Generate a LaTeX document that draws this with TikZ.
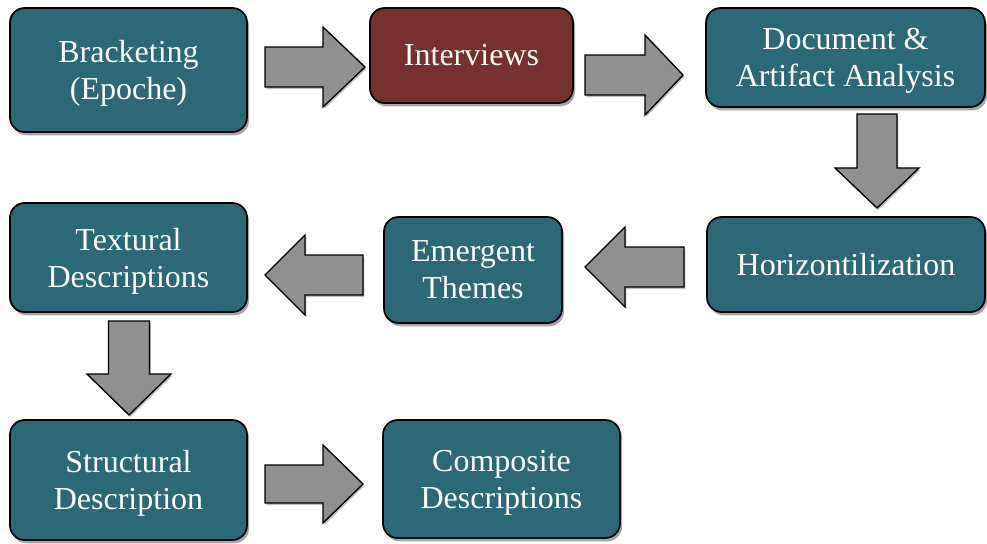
\documentclass[tikz,border=0pt]{standalone}
\usepackage{fontspec}
\setmainfont{Liberation Serif}
\newfontfamily\tnr{Liberation Serif}
\usetikzlibrary{shadows}
\definecolor{teal1}{RGB}{43,105,120}
\definecolor{red1}{RGB}{118,49,46}
\definecolor{gray1}{RGB}{144,144,144}
\newcommand\harrow[6]{\draw[barrow] (#1,#4-#5) -- (#2,#4-#5) -- (#2,#4-#6) -- (#3,#4) -- (#2,#4+#6) -- (#2,#4+#5) -- (#1,#4+#5) -- cycle;}
\newcommand\varrow[6]{\draw[barrow] (#4-#5,#1) -- (#4-#5,#2) -- (#4-#6,#2) -- (#4,#3) -- (#4+#6,#2) -- (#4+#5,#2) -- (#4+#5,#1) -- cycle;}
\begin{document}
\begin{tikzpicture}[x=0.75pt,y=-0.75pt,
  box/.style={draw=black, line width=1.3pt, fill=teal1, rounded corners=11pt,
    text=white, align=center, font=\tnr\fontsize{24}{27.75}\selectfont, inner sep=0pt,
    drop shadow={shadow xshift=1.5pt, shadow yshift=-2.5pt, opacity=0.35, fill=black}},
  barrow/.style={draw=black, line width=1pt, fill=gray1, line join=miter,
    drop shadow={shadow xshift=1pt, shadow yshift=-1.5pt, opacity=0.25, fill=black}}]
\useasboundingbox (0,0) rectangle (987,543);
\node[box, minimum width=237*0.75pt, minimum height=124*0.75pt] (brk) at (128.5,70) {Bracketing\\\smash{(Epoche)}};
\node[box, fill=red1, minimum width=203*0.75pt, minimum height=95*0.75pt] (int) at (471.5,55.5) {Interviews};
\node[box, minimum width=279*0.75pt, minimum height=99*0.75pt] (doc) at (845.5,57.5) {Document \&\\\smash{Artifact Analysis}};
\node[box, minimum width=278*0.75pt, minimum height=95*0.75pt] (hor) at (846,264.5) {Horizontilization};
\node[box, minimum width=178*0.75pt, minimum height=106*0.75pt] (emg) at (473,270) {Emergent\\\smash{Themes}};
\node[box, minimum width=237*0.75pt, minimum height=109*0.75pt] (txt) at (128.5,257.5) {Textural\\\smash{Descriptions}};
\node[box, minimum width=237*0.75pt, minimum height=120*0.75pt] (str) at (128.5,480) {Structural\\\smash{Description}};
\node[box, minimum width=237*0.75pt, minimum height=118*0.75pt] (cmp) at (501.5,479) {Composite\\\smash{Descriptions}};
% block arrows (brk->int, int->doc, doc->hor, hor->emg, emg->txt, txt->str, str->cmp)
\harrow{265}{323}{365}{67}{20}{40}
\harrow{585}{645}{683}{75}{20}{40}
\varrow{114}{168}{208}{877}{20}{42}
\harrow{684}{625}{585}{267}{20}{40}
\harrow{363}{305}{265}{275}{20}{40}
\varrow{321}{374}{415}{129}{20.5}{42}
\harrow{265}{323}{363}{484}{19}{39}
\end{tikzpicture}
\end{document}
